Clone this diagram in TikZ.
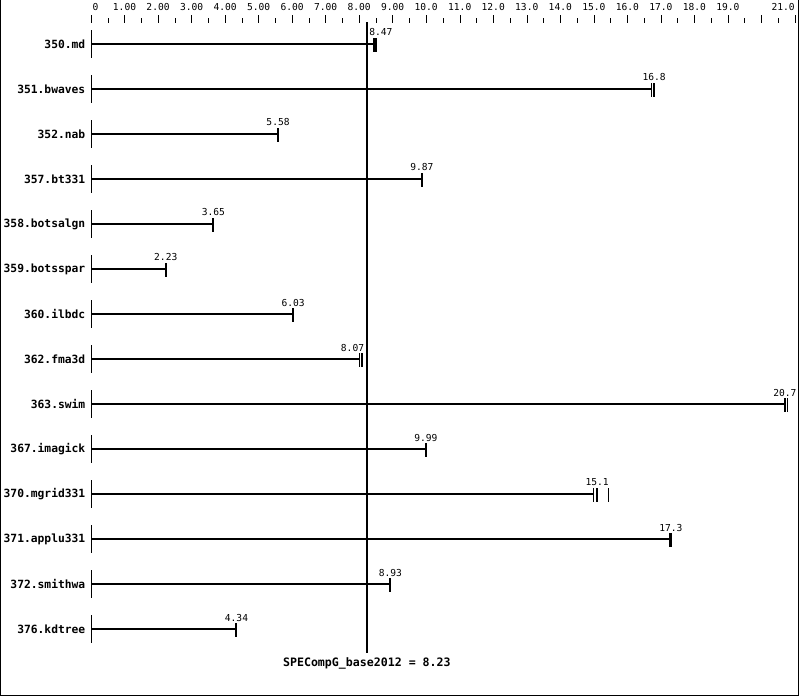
\documentclass[tikz,border=0pt]{standalone}
\usepackage{fontspec}
\setmonofont{DejaVu Sans Mono}
\usetikzlibrary{positioning, calc}

\begin{document}
\begin{tikzpicture}[x=33.52pt, y=-1pt, font=\ttfamily,
    bench/.style={font=\fontsize{11.3}{13}\selectfont\ttfamily\bfseries, inner sep=0pt},
    vallabel/.style={font=\fontsize{9.6}{11}\selectfont\ttfamily, inner sep=0pt},
    axlabel/.style={font=\fontsize{9.6}{11}\selectfont\ttfamily, inner sep=0pt},
    bar/.style={line width=2pt},
    runtick/.style={line width=1pt},
    medtick/.style={line width=2pt},
    refline/.style={line width=2.5pt}]
\useasboundingbox (-2.7148,0) rectangle (21.1217,696);

% frame
\coordinate (tl) at (-2.700,0);
\coordinate (bl) at (-2.700,695.5);
\coordinate (br) at (21.107,695.5);
\coordinate (tr) at (21.107,0);
\draw[line width=1pt] (tl) -- (bl) -- (br) -- (tr);

% axis
\foreach \t in {0,...,21}
    \draw (\t,15) -- (\t,23);
\foreach \t in {0.5,1.5,...,20.5}
    \draw (\t,18) -- (\t,23);
\node[axlabel, anchor=west] (ax0) at ([xshift=1.5pt]0,7) {0};
\foreach \t in {1,...,9}
    \node[axlabel] (ax\t) at (\t,7) {\t.00};
\foreach \t in {10,...,19}
    \node[axlabel] (ax\t) at (\t,7) {\t.0};
\node[axlabel, anchor=east] (ax21) at (21,7) {21.0};

% benchmarks: name / median / lowest / runs / label shift
\foreach \bench/\med/\lo/\runs/\dx [count=\i from 0] in {
    350.md/8.47/8.42/{8.42,8.52}/6,
    351.bwaves/16.8/16.73/{16.73}/0,
    352.nab/5.58/5.58/{5.58}/0,
    357.bt331/9.87/9.87/{9.87}/0,
    358.botsalgn/3.65/3.65/{3.65}/0,
    359.botsspar/2.23/2.23/{2.23}/0,
    360.ilbdc/6.03/6.03/{6.03}/0,
    362.fma3d/8.07/8.00/{8.00}/-9,
    363.swim/20.7/20.7/{20.77}/0,
    367.imagick/9.99/9.99/{9.99}/0,
    370.mgrid331/15.1/14.99/{14.99,15.45}/0,
    371.applu331/17.3/17.25/{17.25}/0,
    372.smithwa/8.93/8.93/{8.93}/0,
    376.kdtree/4.34/4.34/{4.34}/0}{
    \pgfmathsetmacro\ry{44+45*\i}
    \coordinate (o\i) at (0,\ry);
    \coordinate (e\i) at (\lo,\ry);
    \node[bench, left=5.5pt of o\i] (n\i) {\bench};
    \draw ([yshift=14pt]o\i) -- ([yshift=-14pt]o\i);
    \draw[bar] (o\i) -- (e\i);
    \foreach \r in \runs
        \draw[runtick] (\r,{\ry-6}) -- (\r,{\ry+8});
    \draw[medtick] (\med,{\ry-6}) -- (\med,{\ry+8});
    \node[vallabel, xshift=\dx pt] (v\i) at (\med,{\ry-11.5}) {\med};
}

% reference line
\coordinate (reftop) at (8.23,22);
\coordinate (refbot) at (8.23,653);
\draw[refline] (reftop) -- (refbot);
\node[bench, below=4pt of refbot, font=\fontsize{11.6}{13}\selectfont\ttfamily\bfseries] (refval) {SPECompG\_base2012 = 8.23};
\end{tikzpicture}
\end{document}
